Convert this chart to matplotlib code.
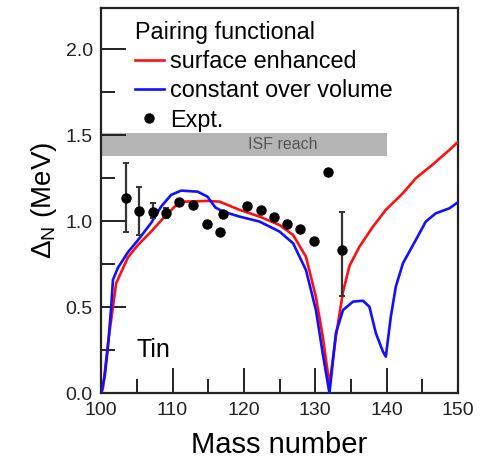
import matplotlib
matplotlib.use('Agg')
import matplotlib.pyplot as plt
from matplotlib.ticker import MultipleLocator

plt.rcParams['font.family'] = ['Liberation Sans', 'DejaVu Sans']
plt.rcParams['mathtext.fontset'] = 'custom'
plt.rcParams['mathtext.rm'] = 'Liberation Sans'
plt.rcParams['mathtext.it'] = 'Liberation Sans:italic'

# surface enhanced pairing functional
red_A = [100.0, 100.25, 100.95, 102.1, 103.75, 105.15, 107.0, 108.9, 110.3, 111.7,
         114.9, 116.6, 119.4, 122.2, 125.0, 126.9, 128.7, 130.1, 131.06, 132.0,
         132.9, 133.9, 134.8, 136.2, 138.1, 139.9, 142.3, 144.1, 146.4, 148.8, 150.0]
red_v = [0.0, 0.03, 0.29, 0.64, 0.79, 0.862, 0.94, 1.027, 1.085, 1.114,
         1.118, 1.114, 1.066, 1.027, 0.978, 0.92, 0.794, 0.56, 0.33, 0.05,
         0.33, 0.59, 0.74, 0.852, 0.969, 1.066, 1.163, 1.25, 1.327, 1.414, 1.46]

# constant over volume
blue_A = [100.0, 100.5, 100.95, 101.4, 101.65, 102.35, 103.75, 105.15, 107.0, 108.4,
          109.8, 111.2, 113.5, 114.9, 116.0, 117.1, 119.4, 122.2, 125.0, 126.9,
          128.7, 130.1, 131.06, 132.0, 132.9, 133.9, 135.3, 136.7, 137.6, 138.5,
          139.5, 139.9, 140.6, 141.3, 142.3, 144.1, 145.5, 146.9, 148.8, 150.0]
blue_v = [0.0, 0.1, 0.27, 0.5, 0.66, 0.73, 0.82, 0.89, 0.99, 1.085,
          1.153, 1.178, 1.172, 1.143, 1.08, 1.056, 1.027, 0.998, 0.94, 0.872,
          0.717, 0.484, 0.23, 0.0, 0.35, 0.484, 0.533, 0.538, 0.503, 0.35,
          0.242, 0.213, 0.445, 0.62, 0.756, 0.891, 0.998, 1.046, 1.075, 1.11]

# experiment
exp_A = [103.5, 105.3, 107.2, 109.1, 110.9, 112.9, 114.8, 116.7, 117.1, 120.4,
         122.4, 124.2, 126.1, 127.9, 129.9, 131.8, 133.8]
exp_v = [1.137, 1.062, 1.056, 1.047, 1.114, 1.095, 0.984, 0.936, 1.04, 1.091,
         1.066, 1.023, 0.982, 0.953, 0.887, 1.285, 0.833]
err_lo = [0.20, 0.14, 0.04, 0.03, 0, 0, 0, 0, 0, 0, 0, 0, 0, 0, 0, 0, 0.265]
err_hi = [0.20, 0.135, 0.05, 0.03, 0, 0, 0, 0, 0, 0, 0, 0, 0, 0, 0, 0, 0.22]

fig = plt.figure(figsize=(4.83, 4.63), dpi=100)
ax = fig.add_axes([0.2095, 0.1505, 0.7385, 0.8325])

ax.axhspan(1.38, 1.515, xmin=0, xmax=0.8, color='#b4b4b4', lw=0, zorder=1)
ax.text(125.5, 1.447, 'ISF reach', ha='center', va='center', fontsize=11.5,
        color='#555555', zorder=2)

ax.plot(red_A, red_v, color='#ff1010', lw=1.9, label='surface enhanced', zorder=3)
ax.plot(blue_A, blue_v, color='#1010ff', lw=1.9, label='constant over volume', zorder=4)
ax.errorbar(exp_A, exp_v, yerr=[err_lo, err_hi], fmt='none', ecolor='#333333',
            elinewidth=1.6, capsize=2.5, capthick=1.4, zorder=5)
ax.plot(exp_A, exp_v, 'o', color='black', ms=6.5, ls='none', label='Expt.', zorder=6)

ax.text(105.0, 0.25, 'Tin', fontsize=18, va='center', ha='left')

ax.set_xlim(100, 150)
ax.set_ylim(0, 2.24)
ax.xaxis.set_major_locator(MultipleLocator(10))
ax.xaxis.set_minor_locator(MultipleLocator(5))
ax.yaxis.set_major_locator(MultipleLocator(0.5))
ax.yaxis.set_minor_locator(MultipleLocator(0.25))
ax.yaxis.set_major_formatter(plt.FormatStrFormatter('%.1f'))
ax.tick_params(which='both', direction='in', top=False, right=False,
               labelsize=14, width=1.4, color='#222222', labelcolor='#222222')
ax.tick_params(which='major', length=18, pad=6)
ax.tick_params(which='minor', length=10)
for s in ax.spines.values():
    s.set_linewidth(1.6)
    s.set_color('#222222')

ax.set_xlabel('Mass number', fontsize=21, labelpad=9)
ax.set_ylabel(r'$\Delta_\mathrm{N}$ (MeV)', fontsize=20, labelpad=5)

leg = ax.legend(loc='upper left', bbox_to_anchor=(0.058, 1.0), frameon=False,
                title='Pairing functional', title_fontsize=16.8, fontsize=16.8,
                alignment='left', handlelength=1.25, handletextpad=0.25,
                labelspacing=0.27, borderaxespad=0.15)

plt.savefig('out.png', dpi=100)
